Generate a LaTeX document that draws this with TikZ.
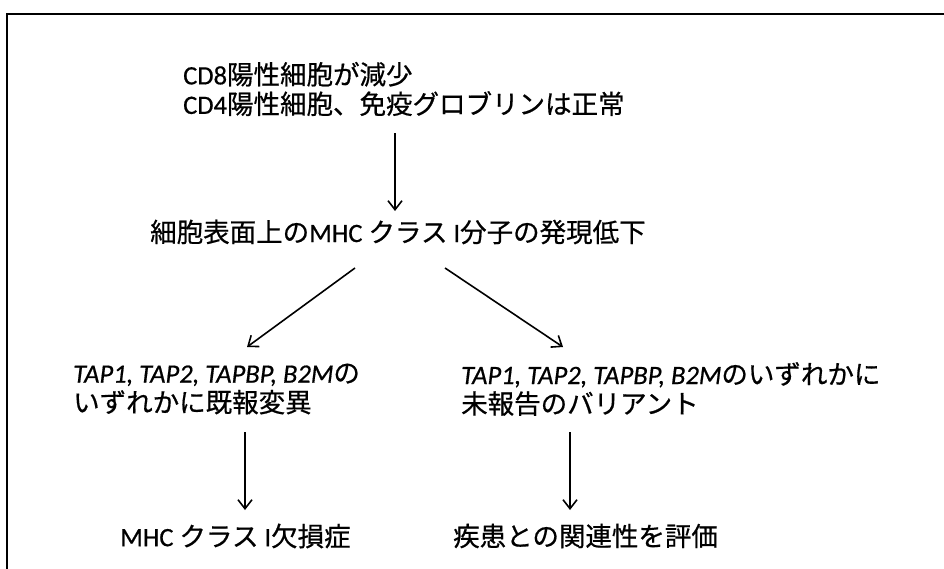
\documentclass[tikz,border=0pt]{standalone}
\usepackage{fontspec}
\setmainfont{Carlito}[RawFeature={embolden=0.6}]
\newfontfamily\jp[RawFeature={embolden=0.6}]{Noto Sans CJK JP}
\usetikzlibrary{arrows.meta}
\begin{document}
\begin{tikzpicture}[x=1pt,y=-1pt,
  txt/.style={inner sep=0pt, anchor=west, align=left, font=\fontsize{26.5}{29.5}\selectfont},
  arr/.style={line width=1.6pt, -{Straight Barb[length=9pt,width=14pt,line width=1.6pt]}}]
\useasboundingbox (0,0) rectangle (944,568);
\draw[line width=2pt] (7,14) rectangle (990,620);
\node[txt] (top) at (183,89) {CD8{\jp 陽性細胞が減少}\\CD4{\jp 陽性細胞、免疫グロブリンは正常}};
\node[txt] (mid) at (150,232) {{\jp 細胞表面上の}MHC {\jp クラス} I{\jp 分子の発現低下}};
\node[txt] (left) at (73,389) {\textit{TAP1, TAP2, TAPBP, B2M}{\jp の}\\{\jp いずれかに既報変異}};
\node[txt] (right) at (461,389) {\textit{TAP1, TAP2, TAPBP, B2M}{\jp のいずれかに}\\{\jp 未報告のバリアント}};
\node[txt] (bl) at (120,536) {MHC {\jp クラス} I{\jp 欠損症}};
\node[txt] (br) at (453,536) {{\jp 疾患との関連性を評価}};
\coordinate (a1) at (395,133); \coordinate (a2) at (395,211);
\coordinate (l1) at (355,268); \coordinate (l2) at (247,347);
\coordinate (r1) at (445,268); \coordinate (r2) at (563,347);
\coordinate (d1) at (245,432); \coordinate (d2) at (245,510);
\coordinate (e1) at (570,432); \coordinate (e2) at (570,510);
\draw[arr] (a1) -- (a2);
\draw[arr] (l1) -- (l2);
\draw[arr] (r1) -- (r2);
\draw[arr] (d1) -- (d2);
\draw[arr] (e1) -- (e2);
\end{tikzpicture}
\end{document}
